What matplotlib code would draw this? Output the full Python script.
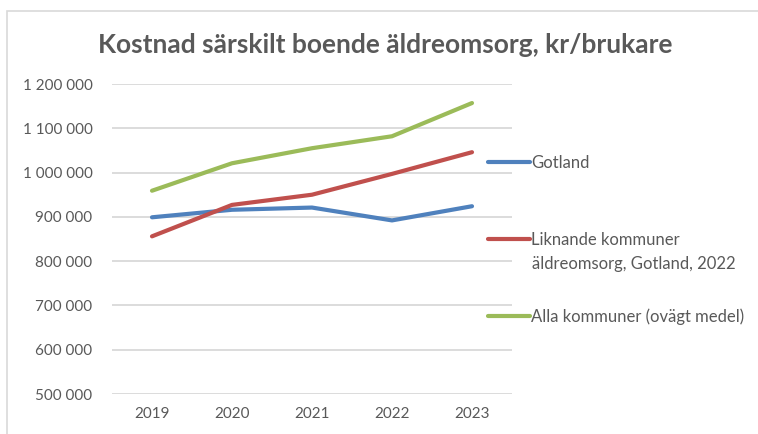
import numpy as np
import matplotlib.pyplot as plt
from matplotlib.patches import Rectangle
from matplotlib.ticker import FuncFormatter

years = ["2019", "2020", "2021", "2022", "2023"]
gotland = [899000, 916000, 921000, 892000, 924000]
liknande = [856000, 927000, 950000, 997000, 1046000]
alla = [959000, 1021000, 1055000, 1082000, 1157000]

series_labels = ["Gotland", "Liknande kommuner", "Alla kommuner (ovägt medel)"]
label_extra = "äldreomsorg, Gotland, 2022"  # second line of the red entry
colors = ["#4F81BD", "#C0504D", "#9BBB59"]

plt.rcParams['font.family'] = ['Lato', 'DejaVu Sans']
text_color = "#595959"

fig = plt.figure(figsize=(7.58, 4.34), dpi=100)
# chart border
fig.patches.append(Rectangle((7 / 758, -0.1), 1.2, 1 - 11 / 434 + 0.1,
                             transform=fig.transFigure, fill=False,
                             edgecolor="#D9D9D9", linewidth=1.2))

ax = fig.add_axes([112 / 758, 1 - 394 / 434, 400 / 758, 310 / 434])

x = np.arange(len(years))
for vals, lab, col in zip([gotland, liknande, alla], series_labels, colors):
    ax.plot(x, vals, color=col, linewidth=3, solid_capstyle='round',
            solid_joinstyle='round', label=lab)

ax.set_xlim(-0.5, len(years) - 0.5)
ax.set_ylim(500000, 1200000)
ax.set_yticks(np.arange(500000, 1200001, 100000))
ax.yaxis.set_major_formatter(FuncFormatter(lambda v, p: f"{v:,.0f}".replace(",", " ")))
ax.set_xticks(x)
ax.set_xticklabels(years)
ax.tick_params(length=0, labelsize=11, colors=text_color, pad=14)
ax.tick_params(axis='x', pad=9)
ax.grid(axis='y', color="#D9D9D9", linewidth=1.3)
ax.set_axisbelow(True)
for s in ax.spines.values():
    s.set_visible(False)

leg = ax.legend(loc='center left', bbox_to_anchor=(488 / 758, 1 - 240 / 434),
                bbox_transform=fig.transFigure, frameon=False, fontsize=12,
                handlelength=2.5, handletextpad=0.1, labelspacing=3.66,
                borderpad=0, borderaxespad=0)
for t in leg.get_texts():
    t.set_color(text_color)

fig.text(532 / 758, 1 - 264 / 434, label_extra, ha='left', va='center',
         fontsize=12, color=text_color)

fig.text(385 / 758, 1 - 45 / 434, "Kostnad särskilt boende äldreomsorg, kr/brukare",
         ha='center', va='center', fontsize=19, fontweight='bold', color=text_color)

fig.savefig("out.png", dpi=100)
